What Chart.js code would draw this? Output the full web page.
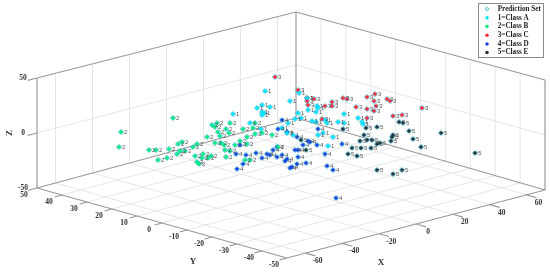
<!DOCTYPE html>
<html><head><meta charset="utf-8">
<style>html,body{margin:0;padding:0;background:#fff}canvas{display:block;filter:blur(0.35px)}</style>
<script src="https://cdn.jsdelivr.net/npm/chart.js@4"></script></head>
<body><canvas id="c" width="550" height="275"></canvas>
<script>
// Projected (horizontal, vertical) position of every sample
const classA=[[265,91],[257,108],[262,105],[270,107],[262,112],[264,113],[262,115],[233,114],[250,123],[290,101],[299,93],[298,113],[301,118],[295,119],[307,98],[308,110],[317,106],[318,108],[316,112],[312,121],[316,122],[325,120],[327,123],[338,122],[344,114],[344,123],[358,118],[362,122],[363,124],[261,129],[287,133],[293,135],[323,133],[333,137],[328,146],[318,135],[288,123],[282,128]];
const classB=[[121,132],[119,147],[173,118],[149,150],[156,150],[169,149],[158,160],[167,158],[177,154],[178,144],[182,142],[180,151],[185,151],[193,147],[197,144],[195,156],[203,154],[202,158],[208,158],[211,156],[197,162],[199,164],[226,157],[207,137],[212,125],[217,123],[215,127],[218,132],[220,136],[226,129],[230,123],[229,133],[243,129],[253,128],[255,134],[262,133],[255,123],[247,137],[272,135],[215,143],[221,143],[224,145],[225,150],[230,151],[235,145],[240,141],[247,144],[245,160],[250,160],[278,147]];
const classC=[[275,77],[298,90],[307,98],[307,101],[314,99],[308,105],[325,106],[332,102],[332,106],[322,119],[343,98],[347,99],[356,107],[367,97],[375,94],[374,101],[376,106],[374,111],[367,109],[387,99],[390,101],[393,116],[402,115],[422,108],[367,118]];
const classD=[[236,154],[246,155],[243,164],[237,169],[256,153],[262,158],[267,154],[270,155],[273,150],[277,157],[282,155],[287,159],[285,161],[295,150],[298,150],[298,157],[297,164],[290,168],[292,167],[306,163],[303,145],[308,141],[317,145],[325,154],[342,144],[327,166],[333,170],[336,198],[282,120],[278,129],[287,132],[318,129],[297,137],[277,147],[310,142],[240,145]];
const classE=[[366,128],[377,127],[399,122],[403,123],[409,131],[413,139],[421,147],[441,133],[475,153],[364,135],[393,135],[392,137],[391,141],[360,141],[367,140],[372,140],[352,148],[361,148],[371,148],[377,144],[380,143],[348,154],[357,156],[377,170],[393,174],[402,170],[343,129],[306,150],[301,140]];

const xTicks=[-60,-40,-20,0,20,40,60];
const yTicks=[50,40,30,20,10,0,-10,-20,-30,-40,-50];
const zTicks=[50,0,-50];
const seriesNames=['Prediction Set','1=Class A','2=Class B','3=Class C','4=Class D','5=Class E'];
const seriesColors=['#2fb8d8','#00e5ff','#00ee7a','#ff2a3a','#1f3fe0','#263238'];

// 3D box projection: floor corners and wall height
function project(X,Y,Z){
  const u=(X+70)/140,v=(50-Y)/100;
  const fx=37*(1-u)*(1-v)+296*u*(1-v)+287*(1-u)*v+545*u*v;
  const fy=188*(1-u)*(1-v)+118*u*(1-v)+258*(1-u)*v+190*u*v;
  const h=110*(1-u)*(1-v)+106*u*(1-v)+110*(1-u)*v+110*u*v;
  return {x:fx,y:fy-(Z+50)/100*h};
}
function segs(list){
  const out=[];
  list.forEach(s=>{out.push(project(...s[0]),project(...s[1]),{x:NaN,y:NaN});});
  return out;
}
const gridSeg=[],boxSeg=[];
xTicks.forEach(x=>{gridSeg.push([[x,50,-50],[x,50,50]],[[x,50,-50],[x,-50,-50]]);boxSeg.push([[x,-50,-50],[x,-54,-50]]);});
yTicks.forEach(y=>{
  if(Math.abs(y)<50){gridSeg.push([[70,y,-50],[70,y,50]],[[-70,y,-50],[70,y,-50]]);}
  boxSeg.push([[-70,y,-50],[-74,y,-50]]);
});
gridSeg.push([[-70,50,0],[70,50,0]],[[70,50,0],[70,-50,0]]);
zTicks.forEach(z=>boxSeg.push([[-70,50,z],[-75,50,z]]));
boxSeg.push(
 [[-70,50,-50],[-70,50,50]],[[70,50,-50],[70,50,50]],[[70,-50,-50],[70,-50,50]],
 [[-70,50,50],[70,50,50]],[[70,50,50],[70,-50,50]],
 [[-70,50,-50],[70,50,-50]],[[70,50,-50],[70,-50,-50]],
 [[-70,50,-50],[-70,-50,-50]],[[-70,-50,-50],[70,-50,-50]]);

const toPts=a=>a.map(p=>({x:p[0],y:p[1]}));
const classes=[classA,classB,classC,classD,classE];
const allPts=toPts(classes.flat());

const datasets=[
 {label:seriesNames[0],data:allPts,pointStyle:'rectRot',pointRadius:2.5,pointBackgroundColor:'rgba(255,255,255,0)',pointBorderColor:seriesColors[0],pointBorderWidth:1,showLine:false,order:2,
  backgroundColor:'#fff',borderColor:seriesColors[0]}
];
classes.forEach((c,i)=>datasets.push({label:seriesNames[i+1],data:toPts(c),pointStyle:'circle',pointRadius:1.8,pointBorderWidth:0,pointBackgroundColor:seriesColors[i+1],backgroundColor:seriesColors[i+1],borderColor:seriesColors[i+1],showLine:false,order:1}));
datasets.push({label:'grid',data:segs(gridSeg),showLine:true,spanGaps:false,pointRadius:0,borderColor:'#e6e6e6',borderWidth:1,order:5});
datasets.push({label:'box',data:segs(boxSeg),showLine:true,spanGaps:false,pointRadius:0,borderColor:'#9a9a9a',borderWidth:1.2,order:4});

const serif='"Liberation Serif",serif';
const labelsPlugin={id:'labels3d',
 beforeDraw(ch){
  const l=ch.legend;
  l.left=482;l.right=543;l.top=4;l.bottom=60;
  const ctx=ch.ctx;
  ctx.save();ctx.strokeStyle='#8a8a8a';ctx.lineWidth=1;
  ctx.strokeRect(478.5,3.5,65,54);ctx.restore();
 },
 afterDatasetsDraw(ch){
  const {ctx,scales:{x:sx,y:sy}}=ch;
  const px=p=>sx.getPixelForValue(p.x),py=p=>sy.getPixelForValue(p.y);
  ctx.save();
  ctx.textBaseline='middle';ctx.textAlign='left';ctx.fillStyle='#555';
  ctx.font='6px "Liberation Sans",sans-serif';
  classes.forEach((c,i)=>c.forEach(p=>ctx.fillText(String(i+1),sx.getPixelForValue(p[0])+3,sy.getPixelForValue(p[1])+0.5)));
  ctx.fillStyle='#333';ctx.textAlign='center';ctx.font='bold 7.5px '+serif;
  xTicks.forEach(t=>{const p=project(t,-50,-50);ctx.fillText(t,px(p)+12,py(p)+8);});
  yTicks.forEach(t=>{const p=project(-70,t,-50);ctx.fillText(t,px(p)-13,py(p)+7.5);});
  zTicks.forEach(t=>{const p=project(-70,50,t);ctx.fillText(t,px(p)-14,py(p));});
  ctx.font='bold 9px '+serif;
  ctx.fillText('X',381,263);ctx.fillText('Y',193,262);
  ctx.save();ctx.translate(10,133);ctx.rotate(-Math.PI/2);ctx.fillText('Z',0,0);ctx.restore();
  ctx.restore();
 }};

new Chart(document.getElementById('c'),{
 type:'scatter',
 data:{datasets},
 plugins:[labelsPlugin],
 options:{
  responsive:false,animation:false,
  layout:{padding:0,autoPadding:false},
  scales:{x:{type:'linear',display:false,min:0,max:550},y:{type:'linear',display:false,min:0,max:275,reverse:true}},
  plugins:{tooltip:{enabled:false},
   legend:{position:'chartArea',align:'start',
    labels:{usePointStyle:true,boxWidth:7,boxHeight:2.5,padding:1.5,color:'#222',
     font:{family:serif,weight:'bold',size:7.2,lineHeight:1},
     sort:(a,b)=>a.datasetIndex-b.datasetIndex,
     generateLabels(ch){
       const items=Chart.defaults.plugins.legend.labels.generateLabels(ch);
       return items.filter(it=>seriesNames.includes(it.text)).map(it=>Object.assign(it,{text:'  '+it.text}));
     }}}}
 }
});
</script></body></html>
